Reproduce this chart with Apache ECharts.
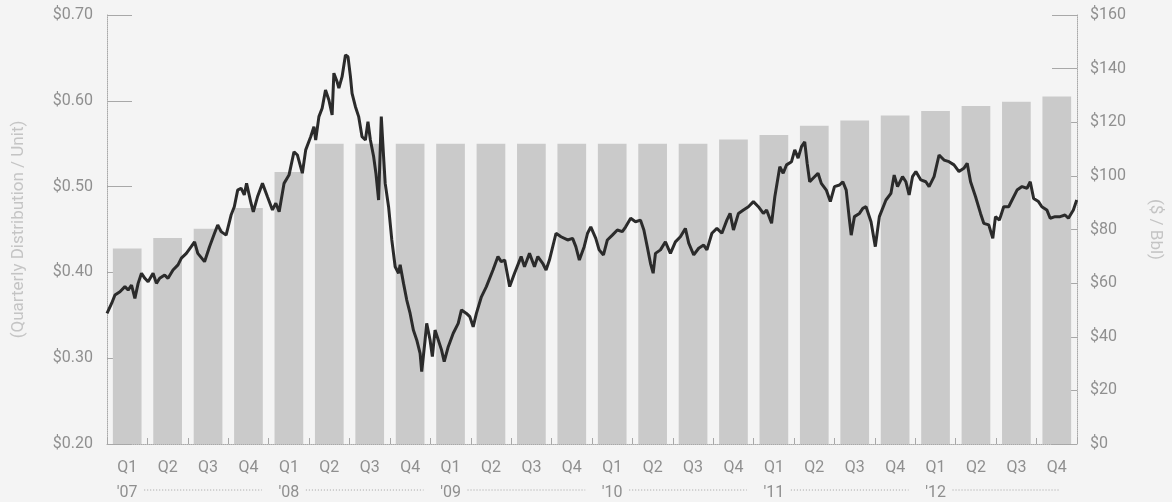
<!DOCTYPE html>
<html>
<head>
<meta charset="utf-8">
<title>Quarterly Distribution vs Oil Price</title>
<script src="https://cdn.jsdelivr.net/npm/echarts@6/dist/echarts.min.js"></script>
<style>
    html, body { margin: 0; padding: 0; background: #f4f4f4; }
    #chart { width: 1172px; height: 502px; }
</style>
</head>
<body>
<div id="chart"></div>
<script>
// 季度标签
var quarters = ['Q1', 'Q2', 'Q3', 'Q4', 'Q1', 'Q2', 'Q3', 'Q4', 'Q1', 'Q2', 'Q3', 'Q4',
    'Q1', 'Q2', 'Q3', 'Q4', 'Q1', 'Q2', 'Q3', 'Q4', 'Q1', 'Q2', 'Q3', 'Q4'];
var years = ["'07", "'08", "'09", "'10", "'11", "'12"];

// 每单位季度分红 (左轴)
var distribution = [0.428, 0.44, 0.451, 0.475, 0.517, 0.55, 0.55, 0.55, 0.55, 0.55, 0.55, 0.55,
    0.55, 0.55, 0.55, 0.555, 0.56, 0.571, 0.577, 0.583, 0.588, 0.594, 0.599, 0.605];

// 油价 [月份(2007年1月起), $/Bbl] (右轴)
var oilPrice = [
    [0, 48.7], [0.35, 52.5], [0.59, 55.6], [0.96, 56.8], [1.33, 58.7], [1.57, 57.4], [1.82, 59.3],
    [2.07, 54.3], [2.31, 59.9], [2.56, 63.7], [2.81, 61.8], [3.05, 60.5], [3.42, 63.7], [3.67, 59.9],
    [3.91, 61.8], [4.28, 63.0], [4.53, 61.8], [4.9, 64.9], [5.27, 66.8], [5.52, 69.3], [5.89, 71.1],
    [6.25, 73.6], [6.5, 75.4], [6.74, 71.1], [7.24, 68.0], [7.61, 73.6], [7.98, 78.6], [8.22, 81.7],
    [8.47, 79.2], [8.84, 77.9], [9.21, 85.4], [9.45, 88.5], [9.7, 94.7], [9.95, 95.4], [10.19, 92.9],
    [10.36, 97.2], [10.69, 89.8], [10.86, 86.6], [11.17, 92.2], [11.54, 97.2], [11.91, 92.2],
    [12.28, 87.3], [12.53, 89.8], [12.78, 86.6], [13.14, 97.2], [13.51, 100.3], [13.88, 109.0],
    [14.13, 107.8], [14.5, 101.0], [14.75, 109.7], [15.12, 114.6], [15.36, 118.3], [15.49, 113.4],
    [15.73, 122.1], [15.97, 125.2], [16.22, 132.0], [16.47, 128.3], [16.71, 122.7], [16.84, 138.3],
    [17.08, 135.1], [17.21, 132.7], [17.45, 137.0], [17.7, 145.1], [17.89, 144.4], [18.07, 137.0],
    [18.19, 130.8], [18.44, 125.8], [18.68, 122.1], [18.93, 114.6], [19.18, 113.4], [19.37, 120.2],
    [19.55, 113.4], [19.79, 107.2], [19.96, 101.0], [20.16, 91.0], [20.36, 122.1], [20.53, 107.2],
    [20.65, 97.2], [20.9, 88.5], [21.14, 76.1], [21.39, 66.1], [21.64, 63.7], [21.76, 66.8],
    [22.01, 59.9], [22.25, 53.7], [22.5, 48.7], [22.74, 42.5], [22.99, 38.8], [23.24, 33.8],
    [23.36, 27.0], [23.61, 38.8], [23.73, 45.0], [23.98, 38.8], [24.15, 32.6], [24.35, 42.5],
    [24.59, 38.8], [24.83, 35.1], [25.03, 30.7], [25.33, 36.3], [25.7, 41.3], [26.07, 45.0],
    [26.31, 50.0], [26.68, 48.7], [26.93, 47.5], [27.18, 43.7], [27.42, 48.7], [27.79, 54.9],
    [28.16, 58.7], [28.65, 64.9], [29.02, 69.9], [29.26, 68.0], [29.52, 68.6], [29.89, 58.7],
    [30.25, 63.7], [30.74, 69.9], [30.99, 66.1], [31.36, 71.1], [31.73, 66.1], [31.98, 69.9],
    [32.34, 67.4], [32.59, 64.9], [32.84, 68.6], [33.33, 78.6], [33.7, 77.3], [34.19, 76.1],
    [34.56, 76.7], [34.8, 73.6], [35.06, 68.6], [35.42, 73.6], [35.67, 78.6], [35.91, 81.0],
    [36.28, 76.7], [36.53, 72.4], [36.85, 70.5], [37.14, 76.1], [37.51, 77.9], [37.88, 79.8],
    [38.25, 79.2], [38.5, 81.0], [38.87, 84.2], [39.23, 82.9], [39.6, 83.5], [39.85, 79.8],
    [40.1, 73.6], [40.34, 67.4], [40.54, 63.7], [40.71, 71.1], [41.08, 72.4], [41.45, 75.4],
    [41.82, 71.1], [42.19, 75.4], [42.56, 77.3], [42.93, 80.4], [43.18, 74.9], [43.55, 70.5],
    [43.92, 73.0], [44.29, 74.2], [44.53, 72.4], [44.9, 78.6], [45.27, 80.4], [45.64, 78.6],
    [46.01, 83.5], [46.25, 86.0], [46.5, 79.8], [46.87, 86.0], [47.24, 87.3], [47.61, 88.5],
    [47.98, 90.4], [48.35, 88.5], [48.72, 86.0], [48.96, 87.3], [49.33, 82.3], [49.57, 92.2],
    [49.94, 103.4], [50.19, 101.0], [50.44, 104.1], [50.81, 105.3], [51.05, 109.7], [51.3, 106.6],
    [51.55, 110.9], [51.79, 112.7], [51.97, 104.7], [52.16, 97.8], [52.41, 99.1], [52.78, 101.0],
    [53.02, 97.2], [53.39, 94.7], [53.69, 90.4], [54.0, 96.0], [54.37, 96.6], [54.62, 97.8],
    [54.87, 94.7], [55.11, 83.5], [55.24, 77.9], [55.48, 84.8], [55.85, 86.0], [56.1, 87.9],
    [56.34, 88.5], [56.71, 82.9], [57.03, 73.6], [57.33, 84.8], [57.82, 91.0], [58.19, 93.5],
    [58.43, 100.3], [58.68, 96.0], [59.05, 99.7], [59.3, 97.8], [59.54, 92.9], [59.79, 99.7],
    [60.04, 101.6], [60.41, 98.5], [60.78, 97.8], [61.02, 96.0], [61.39, 99.7], [61.76, 107.8],
    [62.13, 105.9], [62.5, 105.3], [62.87, 104.1], [63.24, 101.6], [63.6, 102.8], [63.85, 104.7],
    [64.1, 97.8], [64.47, 92.2], [64.84, 86.0], [65.08, 82.3], [65.45, 81.7], [65.75, 76.7],
    [65.95, 84.8], [66.24, 83.5], [66.56, 88.5], [66.93, 88.5], [67.18, 91.0], [67.55, 94.7],
    [67.92, 96.0], [68.29, 95.4], [68.53, 97.8], [68.78, 91.6], [69.14, 90.4], [69.39, 88.5],
    [69.76, 87.3], [70.01, 84.2], [70.38, 84.8], [70.75, 84.8], [71.11, 85.4], [71.36, 84.2],
    [71.73, 87.3], [71.98, 91.0]
];

(function () {
    var myechart = echarts.init(document.getElementById('chart'));
    var labelColor = '#8f8f8f';
    var titleColor = '#c4c4c4';
    var axisColor = '#a8a8a8';
    var font = 'Roboto';

    // 年份标签只放在每年的 Q1 下面
    var yearRow = quarters.map(function (q, i) {
        return i % 4 === 0 ? years[i / 4] : '';
    });

    var option = {
        backgroundColor: '#f4f4f4',
        animation: false,
        grid: { left: 107, right: 90, top: 15, bottom: 58 },
        xAxis: [
            {
                type: 'category',
                data: quarters,
                axisLine: { lineStyle: { color: axisColor, type: 'dotted' } },
                axisTick: { show: true, inside: true, length: 6, interval: 0, lineStyle: { color: axisColor } },
                axisLabel: { interval: 0, color: labelColor, fontSize: 16, fontFamily: font, margin: 16 }
            },
            {
                type: 'category',
                data: yearRow,
                position: 'bottom',
                offset: 25,
                axisLine: { show: false },
                axisTick: { show: false },
                axisLabel: { interval: 0, color: labelColor, fontSize: 16, fontFamily: font, margin: 16 }
            },
            {
                type: 'value',
                min: 0,
                max: 72,
                show: false
            }
        ],
        yAxis: [
            {
                type: 'value',
                position: 'left',
                min: 0.2,
                max: 0.7,
                interval: 0.1,
                name: '(Quarterly Distribution / Unit)',
                nameLocation: 'middle',
                nameGap: 80,
                nameTextStyle: { color: titleColor, fontSize: 17, fontFamily: font },
                axisLine: { show: true, lineStyle: { color: axisColor, type: 'dotted' } },
                axisTick: { show: true, inside: true, length: 25, lineStyle: { color: axisColor } },
                axisLabel: {
                    color: labelColor, fontSize: 16, fontFamily: font, margin: 14,
                    formatter: function (v) { return '$' + v.toFixed(2); }
                },
                splitLine: { show: false }
            },
            {
                type: 'value',
                position: 'right',
                min: 0,
                max: 160,
                interval: 20,
                name: '($ / Bbl)',
                nameLocation: 'middle',
                nameGap: 70,
                nameRotate: -90,
                nameTextStyle: { color: titleColor, fontSize: 17, fontFamily: font },
                axisLine: { show: true, lineStyle: { color: axisColor, type: 'dotted' } },
                axisTick: { show: true, inside: true, length: 25, lineStyle: { color: axisColor } },
                axisLabel: {
                    color: labelColor, fontSize: 16, fontFamily: font, margin: 13,
                    formatter: function (v) { return '$' + v; }
                },
                splitLine: { show: false }
            }
        ],
        series: [
            {
                name: 'Distribution',
                type: 'bar',
                xAxisIndex: 0,
                yAxisIndex: 0,
                data: distribution,
                barWidth: '71%',
                itemStyle: { color: '#cacaca' }
            },
            {
                name: 'Oil',
                type: 'line',
                xAxisIndex: 2,
                yAxisIndex: 1,
                data: oilPrice,
                showSymbol: false,
                lineStyle: { color: '#2b2b2b', width: 3 },
                z: 5
            }
        ]
    };

    myechart.setOption(option);

    // 年份之间的虚线
    var lineY = myechart.convertToPixel({ yAxisIndex: 0 }, 0.2) + 46;
    var graphics = [];
    for (var k = 0; k < years.length; k++) {
        var x0 = myechart.convertToPixel({ xAxisIndex: 0 }, k * 4) + 17;
        var x1 = k < years.length - 1
            ? myechart.convertToPixel({ xAxisIndex: 0 }, (k + 1) * 4) - 27
            : myechart.convertToPixel({ xAxisIndex: 0 }, k * 4 + 3) + 3;
        graphics.push({
            type: 'line',
            shape: { x1: x0, y1: lineY, x2: x1, y2: lineY },
            style: { stroke: '#a0a0a0', lineWidth: 1, lineDash: [1, 2] }
        });
    }
    myechart.setOption({ graphic: graphics });

    window.addEventListener('resize', function () {
        myechart.resize();
    });
})();
</script>
</body>
</html>
